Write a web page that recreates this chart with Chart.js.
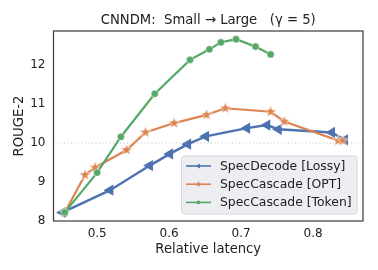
<!DOCTYPE html>
<html>
<head>
<meta charset="utf-8">
<script src="https://cdn.jsdelivr.net/npm/chart.js@4"></script>
<style>
  html, body { margin: 0; padding: 0; background: #fff; }
  #wrap { width: 378px; height: 270px; }
</style>
</head>
<body>
<div id="wrap"><canvas id="myChart" width="378" height="270"></canvas></div>
<script>
// data
const latencyLossy = [0.452, 0.518, 0.573, 0.601, 0.626, 0.651, 0.708, 0.736, 0.752, 0.826, 0.844]
const rougeLossy = [8.22, 8.79, 9.42, 9.72, 9.97, 10.17, 10.38, 10.46, 10.35, 10.27, 10.08]

const latencyOpt = [0.455, 0.483, 0.497, 0.541, 0.567, 0.607, 0.652, 0.678, 0.741, 0.760, 0.835, 0.841]
const rougeOpt = [8.22, 9.18, 9.37, 9.82, 10.27, 10.51, 10.72, 10.89, 10.80, 10.55, 10.06, 10.06]

const latencyToken = [0.455, 0.500, 0.533, 0.580, 0.629, 0.656, 0.672, 0.693, 0.720, 0.741]
const rougeToken = [8.22, 9.24, 10.16, 11.26, 12.13, 12.40, 12.58, 12.66, 12.47, 12.27]

const xTicks = [0.5, 0.6, 0.7, 0.8]
const yTicks = [8, 9, 10, 11, 12]

const BLUE = '#4c72b0'
const ORANGE = '#dd8452'
const GREEN = '#55a868'
const FONT = 'DejaVu Sans'

function pts (xs, ys) {
  return xs.map((x, i) => ({ x: x, y: ys[i] }))
}

// filled five point star, chart.js 'star' is only strokes
function makeStar (r, edge) {
  const c = document.createElement('canvas')
  const s = Math.ceil(r * 2 + 2)
  c.width = s
  c.height = s
  const g = c.getContext('2d')
  g.beginPath()
  for (let i = 0; i < 10; i++) {
    const a = -Math.PI / 2 + i * Math.PI / 5
    const rr = i % 2 === 0 ? r : r * 0.42
    g.lineTo(s / 2 + Math.cos(a) * rr, s / 2 + Math.sin(a) * rr)
  }
  g.closePath()
  g.fillStyle = ORANGE
  g.fill()
  if (edge) {
    g.strokeStyle = 'rgba(255,255,255,0.8)'
    g.lineWidth = edge
    g.stroke()
  }
  return c
}

const bigStar = makeStar(6, 0.7)
const smallStar = makeStar(3.2, 0)

const framePlugin = {
  id: 'frame',
  beforeDatasetsDraw (chart) {
    const { ctx, chartArea: ca, scales } = chart
    const y10 = scales.y.getPixelForValue(10)
    ctx.save()
    ctx.strokeStyle = '#bdbdbd'
    ctx.lineWidth = 1
    ctx.setLineDash([1, 2.5])
    ctx.beginPath()
    ctx.moveTo(ca.left, y10)
    ctx.lineTo(ca.right, y10)
    ctx.stroke()
    ctx.restore()
  },
  afterDraw (chart) {
    const { ctx, chartArea: ca } = chart
    ctx.save()
    ctx.strokeStyle = '#3a3a3a'
    ctx.lineWidth = 1.2
    ctx.strokeRect(ca.left, ca.top, ca.right - ca.left, ca.bottom - ca.top)

    // legend
    const w = 175.5
    const h = 58
    const bx = ca.right - 6 - w
    const by = ca.bottom - 7 - h
    ctx.beginPath()
    ctx.roundRect(bx, by, w, h, 3)
    ctx.fillStyle = 'rgba(236,236,241,0.92)'
    ctx.fill()
    ctx.strokeStyle = '#d6d6dc'
    ctx.lineWidth = 1
    ctx.stroke()

    const items = chart.data.datasets
    items.forEach((ds, i) => {
      const cy = by + 10 + i * 18.2
      ctx.strokeStyle = ds.borderColor
      ctx.lineWidth = 1.6
      ctx.beginPath()
      ctx.moveTo(bx + 4.5, cy)
      ctx.lineTo(bx + 29.5, cy)
      ctx.stroke()
      const mx = bx + 17
      ctx.fillStyle = ds.borderColor
      if (i === 0) {
        ctx.beginPath()
        ctx.moveTo(mx - 3, cy)
        ctx.lineTo(mx + 1.5, cy - 2.6)
        ctx.lineTo(mx + 1.5, cy + 2.6)
        ctx.closePath()
        ctx.fill()
      } else if (i === 1) {
        ctx.drawImage(smallStar, mx - smallStar.width / 2, cy - smallStar.height / 2)
      } else {
        ctx.beginPath()
        ctx.arc(mx, cy, 1.8, 0, Math.PI * 2)
        ctx.fill()
      }
      ctx.fillStyle = '#222'
      ctx.font = '12.4px "' + FONT + '"'
      ctx.textBaseline = 'middle'
      ctx.textAlign = 'left'
      ctx.fillText(ds.label, bx + 38.5, cy + 0.5)
    })
    ctx.restore()
  }
}

const ctx = document.getElementById('myChart')
// eslint-disable-next-line no-unused-vars
const myChart = new Chart(ctx, {
  type: 'line',
  data: {
    datasets: [{
      label: 'SpecDecode [Lossy]',
      data: pts(latencyLossy, rougeLossy),
      borderColor: BLUE,
      backgroundColor: BLUE,
      borderWidth: 2.4,
      pointStyle: 'triangle',
      rotation: -90,
      pointRadius: 6.5,
      pointBorderWidth: 0,
      order: 2
    }, {
      label: 'SpecCascade [OPT]',
      data: pts(latencyOpt, rougeOpt),
      borderColor: ORANGE,
      backgroundColor: ORANGE,
      borderWidth: 2.2,
      pointStyle: bigStar,
      order: 1
    }, {
      label: 'SpecCascade [Token]',
      data: pts(latencyToken, rougeToken),
      borderColor: GREEN,
      backgroundColor: GREEN,
      borderWidth: 2.2,
      pointRadius: 3.6,
      pointBorderColor: 'rgba(255,255,255,0.7)',
      pointBorderWidth: 0.6,
      order: 0
    }]
  },
  options: {
    responsive: false,
    animation: false,
    clip: false,
    layout: { padding: { left: 0, right: 15, top: 0, bottom: 0 } },
    plugins: {
      legend: { display: false },
      tooltip: { enabled: false },
      title: {
        display: true,
        fullSize: false,
        text: 'CNNDM:  Small \u2192 Large   (\u03b3 = 5)',
        color: '#222',
        font: { family: FONT, size: 13.2, weight: 'normal', lineHeight: '17px' },
        padding: { top: 12, bottom: 2 }
      }
    },
    scales: {
      x: {
        type: 'linear',
        min: 0.4393,
        max: 0.8694,
        grid: { display: false, drawTicks: false },
        border: { display: false },
        afterBuildTicks: (s) => { s.ticks = xTicks.map(v => ({ value: v })) },
        afterFit: (s) => { s.height = 49 },
        ticks: {
          color: '#222',
          padding: 6,
          font: { family: FONT, size: 12 },
          callback: (v) => v.toFixed(1)
        },
        title: {
          display: true,
          text: 'Relative latency',
          color: '#222',
          font: { family: FONT, size: 13.2 },
          padding: { top: 0, bottom: 13 }
        }
      },
      y: {
        type: 'linear',
        min: 8,
        max: 12.87,
        grid: { display: false, drawTicks: false },
        border: { display: false },
        afterBuildTicks: (s) => { s.ticks = yTicks.map(v => ({ value: v })) },
        afterFit: (s) => { s.width = 53.5 },
        ticks: {
          color: '#222',
          padding: 8,
          font: { family: FONT, size: 12 },
          callback: (v) => String(v)
        },
        title: {
          display: true,
          text: 'ROUGE-2',
          color: '#222',
          font: { family: FONT, size: 13.2 },
          padding: { top: 12, bottom: 0 }
        }
      }
    }
  },
  plugins: [framePlugin]
})
</script>
</body>
</html>
